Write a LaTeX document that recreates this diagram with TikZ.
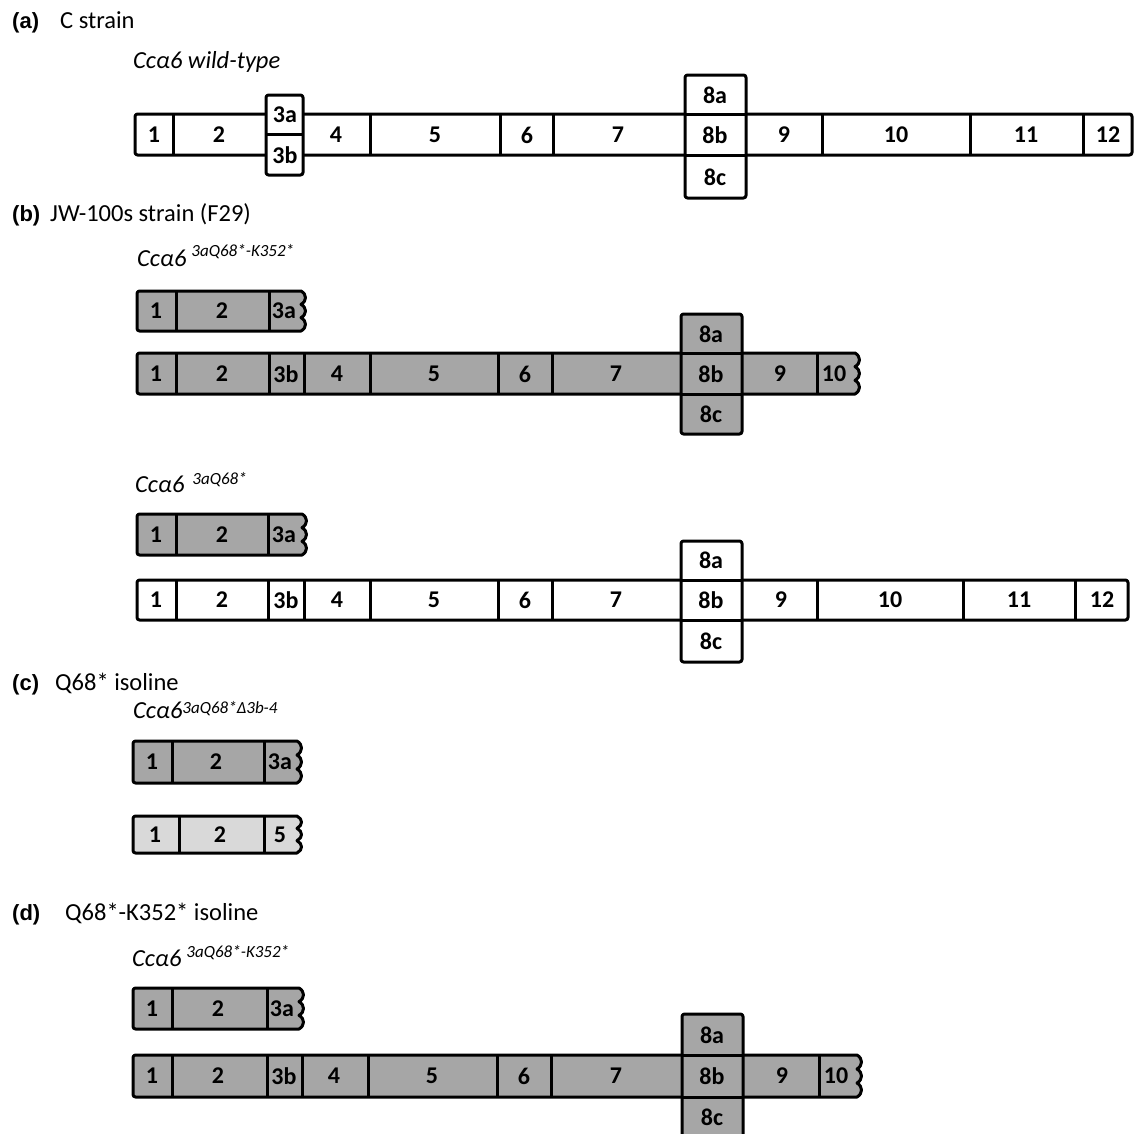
\documentclass[tikz,border=0pt]{standalone}
\usepackage{fontspec}
\setmainfont{Carlito}
\newfontfamily\arialfont{Liberation Sans}
\definecolor{exdark}{RGB}{166,166,166}
\definecolor{exlight}{RGB}{217,217,217}
\tikzset{
  barline/.style={line width=3pt, line join=round, draw=black},
  exon/.style={font=\fontsize{24}{24}\selectfont\bfseries, inner sep=0pt, anchor=center},
  hdr/.style={font=\fontsize{24.5}{24.5}\selectfont, anchor=base west, inner sep=0pt},
  tag/.style={font=\arialfont\bfseries\fontsize{22}{22}\selectfont, anchor=base west, inner sep=0pt},
  lbl/.style={font=\fontsize{24.5}{24.5}\selectfont\itshape, anchor=base west, inner sep=0pt}
}
\newcommand\supsz{\fontsize{17}{17}\selectfont}
% full bar: fill, left, top, right, bottom
\newcommand\fullbar[5]{\draw[barline, fill=#1, rounded corners=2.5pt] (#2,#3) rectangle (#4,#5);}
% truncated bar with wavy right end: fill, left, top, right, bottom
\newcommand\truncbar[5]{%
  \pgfmathsetmacro\wvH{(#5-#3)/3}%
  \pgfmathsetmacro\wvA{#5-\wvH}%
  \pgfmathsetmacro\wvB{#5-2*\wvH}%
  \pgfmathsetmacro\wvX{#4+6}%
  \draw[barline, fill=#1] (#4,#3) [rounded corners=2.5pt] -- (#2,#3) -- (#2,#5) [sharp corners] -- (#4,#5)
    .. controls (\wvX,{#5-\wvH/4}) and (\wvX,{#5-3*\wvH/4}) .. (#4,\wvA)
    .. controls (\wvX,{\wvA-\wvH/4}) and (\wvX,{\wvA-3*\wvH/4}) .. (#4,\wvB)
    .. controls (\wvX,{\wvB-\wvH/4}) and (\wvX,{\wvB-3*\wvH/4}) .. (#4,#3) -- cycle;}
% cross box: fill, left, top, right, bottom, split1, split2
\newcommand\crossbox[7]{%
  \draw[barline, fill=#1, rounded corners=2.5pt] (#2,#3) rectangle (#4,#5);
  \draw[barline] (#2,#6) -- (#4,#6);
  \ifx&#7&\else\draw[barline] (#2,#7) -- (#4,#7);\fi}
\begin{document}
\begin{tikzpicture}[x=1pt,y=-1pt]
\useasboundingbox (0,0) rectangle (1135,1133);
\fill[white] (0,0) rectangle (1135,1133);

% ---------------- (a)
\node[tag] (HA) at (12,28) {(a)};
\node[hdr] (HAt) at (60,28) {C strain};
\node[lbl] (LA) at (133,68) {Ccα6 wild-type};
\fullbar{white}{135}{114}{1132}{155}
\foreach \x in {173,370,500,553,822,970,1083} \draw[barline] (\x,114) -- (\x,155);
\crossbox{white}{266}{95}{303}{175}{134}{}
\crossbox{white}{685}{75}{746}{198}{114}{155}
\node[exon] (A1) at (154,135) {1};
\node[exon] (A2) at (219,135) {2};
\node[exon] (A3a) at (285,115) {3a};
\node[exon] (A3b) at (285,155) {3b};
\node[exon] (A4) at (336,135) {4};
\node[exon] (A5) at (435,135) {5};
\node[exon] (A6) at (527,135) {6};
\node[exon] (A7) at (618,135) {7};
\node[exon] (A8a) at (715,95) {8a};
\node[exon] (A8b) at (715,135) {8b};
\node[exon] (A8c) at (715,177) {8c};
\node[exon] (A9) at (784,135) {9};
\node[exon] (A10) at (896,135) {10};
\node[exon] (A11) at (1026,135) {11};
\node[exon] (A12) at (1108,135) {12};

% ---------------- (b)
\node[tag] (HB) at (12,221) {(b)};
\node[hdr] (HBt) at (50,221) {JW-100s strain (F29)};
\node[lbl] (LB1) at (137,266) {Ccα6\hspace{5pt}\raisebox{10pt}{\supsz 3aQ68*-K352*}};
% b1
\truncbar{exdark}{137}{291}{301}{331}
\foreach \x in {176,269} \draw[barline] (\x,291) -- (\x,331);
\node[exon] (B1n1) at (156,311) {1};
\node[exon] (B1n2) at (222,311) {2};
\node[exon] (B1n3a) at (284,311) {3a};
% b2
\truncbar{exdark}{137}{353}{855}{394}
\foreach \x in {176,269,304,370,498,552,817} \draw[barline] (\x,353) -- (\x,394);
\crossbox{exdark}{681}{314}{742}{434}{353}{394}
\node[exon] (B2n1) at (156,374) {1};
\node[exon] (B2n2) at (222,374) {2};
\node[exon] (B2n3b) at (286,374) {3b};
\node[exon] (B2n4) at (337,374) {4};
\node[exon] (B2n5) at (434,374) {5};
\node[exon] (B2n6) at (525,374) {6};
\node[exon] (B2n7) at (616,374) {7};
\node[exon] (B2n8a) at (711,334) {8a};
\node[exon] (B2n8b) at (711,374) {8b};
\node[exon] (B2n8c) at (711,414) {8c};
\node[exon] (B2n9) at (780,374) {9};
\node[exon] (B2n10) at (834,374) {10};

\node[lbl] (LB2) at (135,492) {Ccα6\hspace{8pt}\raisebox{8pt}{\supsz 3aQ68*}};
% b3
\truncbar{exdark}{137}{514}{302}{555}
\foreach \x in {176,268} \draw[barline] (\x,514) -- (\x,555);
\node[exon] (B3n1) at (156,535) {1};
\node[exon] (B3n2) at (222,535) {2};
\node[exon] (B3n3a) at (284,535) {3a};
% b4
\fullbar{white}{137}{580}{1128}{620}
\foreach \x in {176,268,304,370,498,552,817,963,1075} \draw[barline] (\x,580) -- (\x,620);
\crossbox{white}{681}{541}{742}{662}{580}{620}
\node[exon] (B4n1) at (156,600) {1};
\node[exon] (B4n2) at (222,600) {2};
\node[exon] (B4n3b) at (286,600) {3b};
\node[exon] (B4n4) at (337,600) {4};
\node[exon] (B4n5) at (434,600) {5};
\node[exon] (B4n6) at (525,600) {6};
\node[exon] (B4n7) at (616,600) {7};
\node[exon] (B4n8a) at (711,560) {8a};
\node[exon] (B4n8b) at (711,600) {8b};
\node[exon] (B4n8c) at (711,641) {8c};
\node[exon] (B4n9) at (781,600) {9};
\node[exon] (B4n10) at (890,600) {10};
\node[exon] (B4n11) at (1019,600) {11};
\node[exon] (B4n12) at (1102,600) {12};

% ---------------- (c)
\node[tag] (HC) at (12,690) {(c)};
\node[hdr] (HCt) at (55,690) {Q68* isoline};
\node[lbl] (LC) at (133,718) {Ccα6\raisebox{5pt}{\supsz 3aQ68*Δ3b-4}};
\truncbar{exdark}{133}{741}{297}{783}
\foreach \x in {172,264} \draw[barline] (\x,741) -- (\x,783);
\node[exon] (C1n1) at (152,762) {1};
\node[exon] (C1n2) at (216,762) {2};
\node[exon] (C1n3a) at (280,762) {3a};
\truncbar{exlight}{133}{816}{297}{853}
\foreach \x in {179,264} \draw[barline] (\x,816) -- (\x,853);
\node[exon] (C2n1) at (155,835) {1};
\node[exon] (C2n2) at (220,835) {2};
\node[exon] (C2n5) at (280,835) {5};

% ---------------- (d)
\node[tag] (HD) at (12,920) {(d)};
\node[hdr] (HDt) at (65,920) {Q68*-K352* isoline};
\node[lbl] (LD) at (132,966) {Ccα6\hspace{5pt}\raisebox{9pt}{\supsz 3aQ68*-K352*}};
\truncbar{exdark}{133}{988}{299}{1029}
\foreach \x in {172,267} \draw[barline] (\x,988) -- (\x,1029);
\node[exon] (D1n1) at (152,1009) {1};
\node[exon] (D1n2) at (218,1009) {2};
\node[exon] (D1n3a) at (282,1009) {3a};
\truncbar{exdark}{133}{1055}{857}{1097}
\foreach \x in {172,267,302,368,497,551,819} \draw[barline] (\x,1055) -- (\x,1097);
\crossbox{exdark}{682}{1014}{743}{1140}{1055}{1097}
\node[exon] (D2n1) at (152,1076) {1};
\node[exon] (D2n2) at (218,1076) {2};
\node[exon] (D2n3b) at (284,1076) {3b};
\node[exon] (D2n4) at (334,1076) {4};
\node[exon] (D2n5) at (432,1076) {5};
\node[exon] (D2n6) at (524,1076) {6};
\node[exon] (D2n7) at (616,1076) {7};
\node[exon] (D2n8a) at (712,1035) {8a};
\node[exon] (D2n8b) at (712,1076) {8b};
\node[exon] (D2n8c) at (712,1117) {8c};
\node[exon] (D2n9) at (782,1076) {9};
\node[exon] (D2n10) at (836,1076) {10};
\end{tikzpicture}
\end{document}
